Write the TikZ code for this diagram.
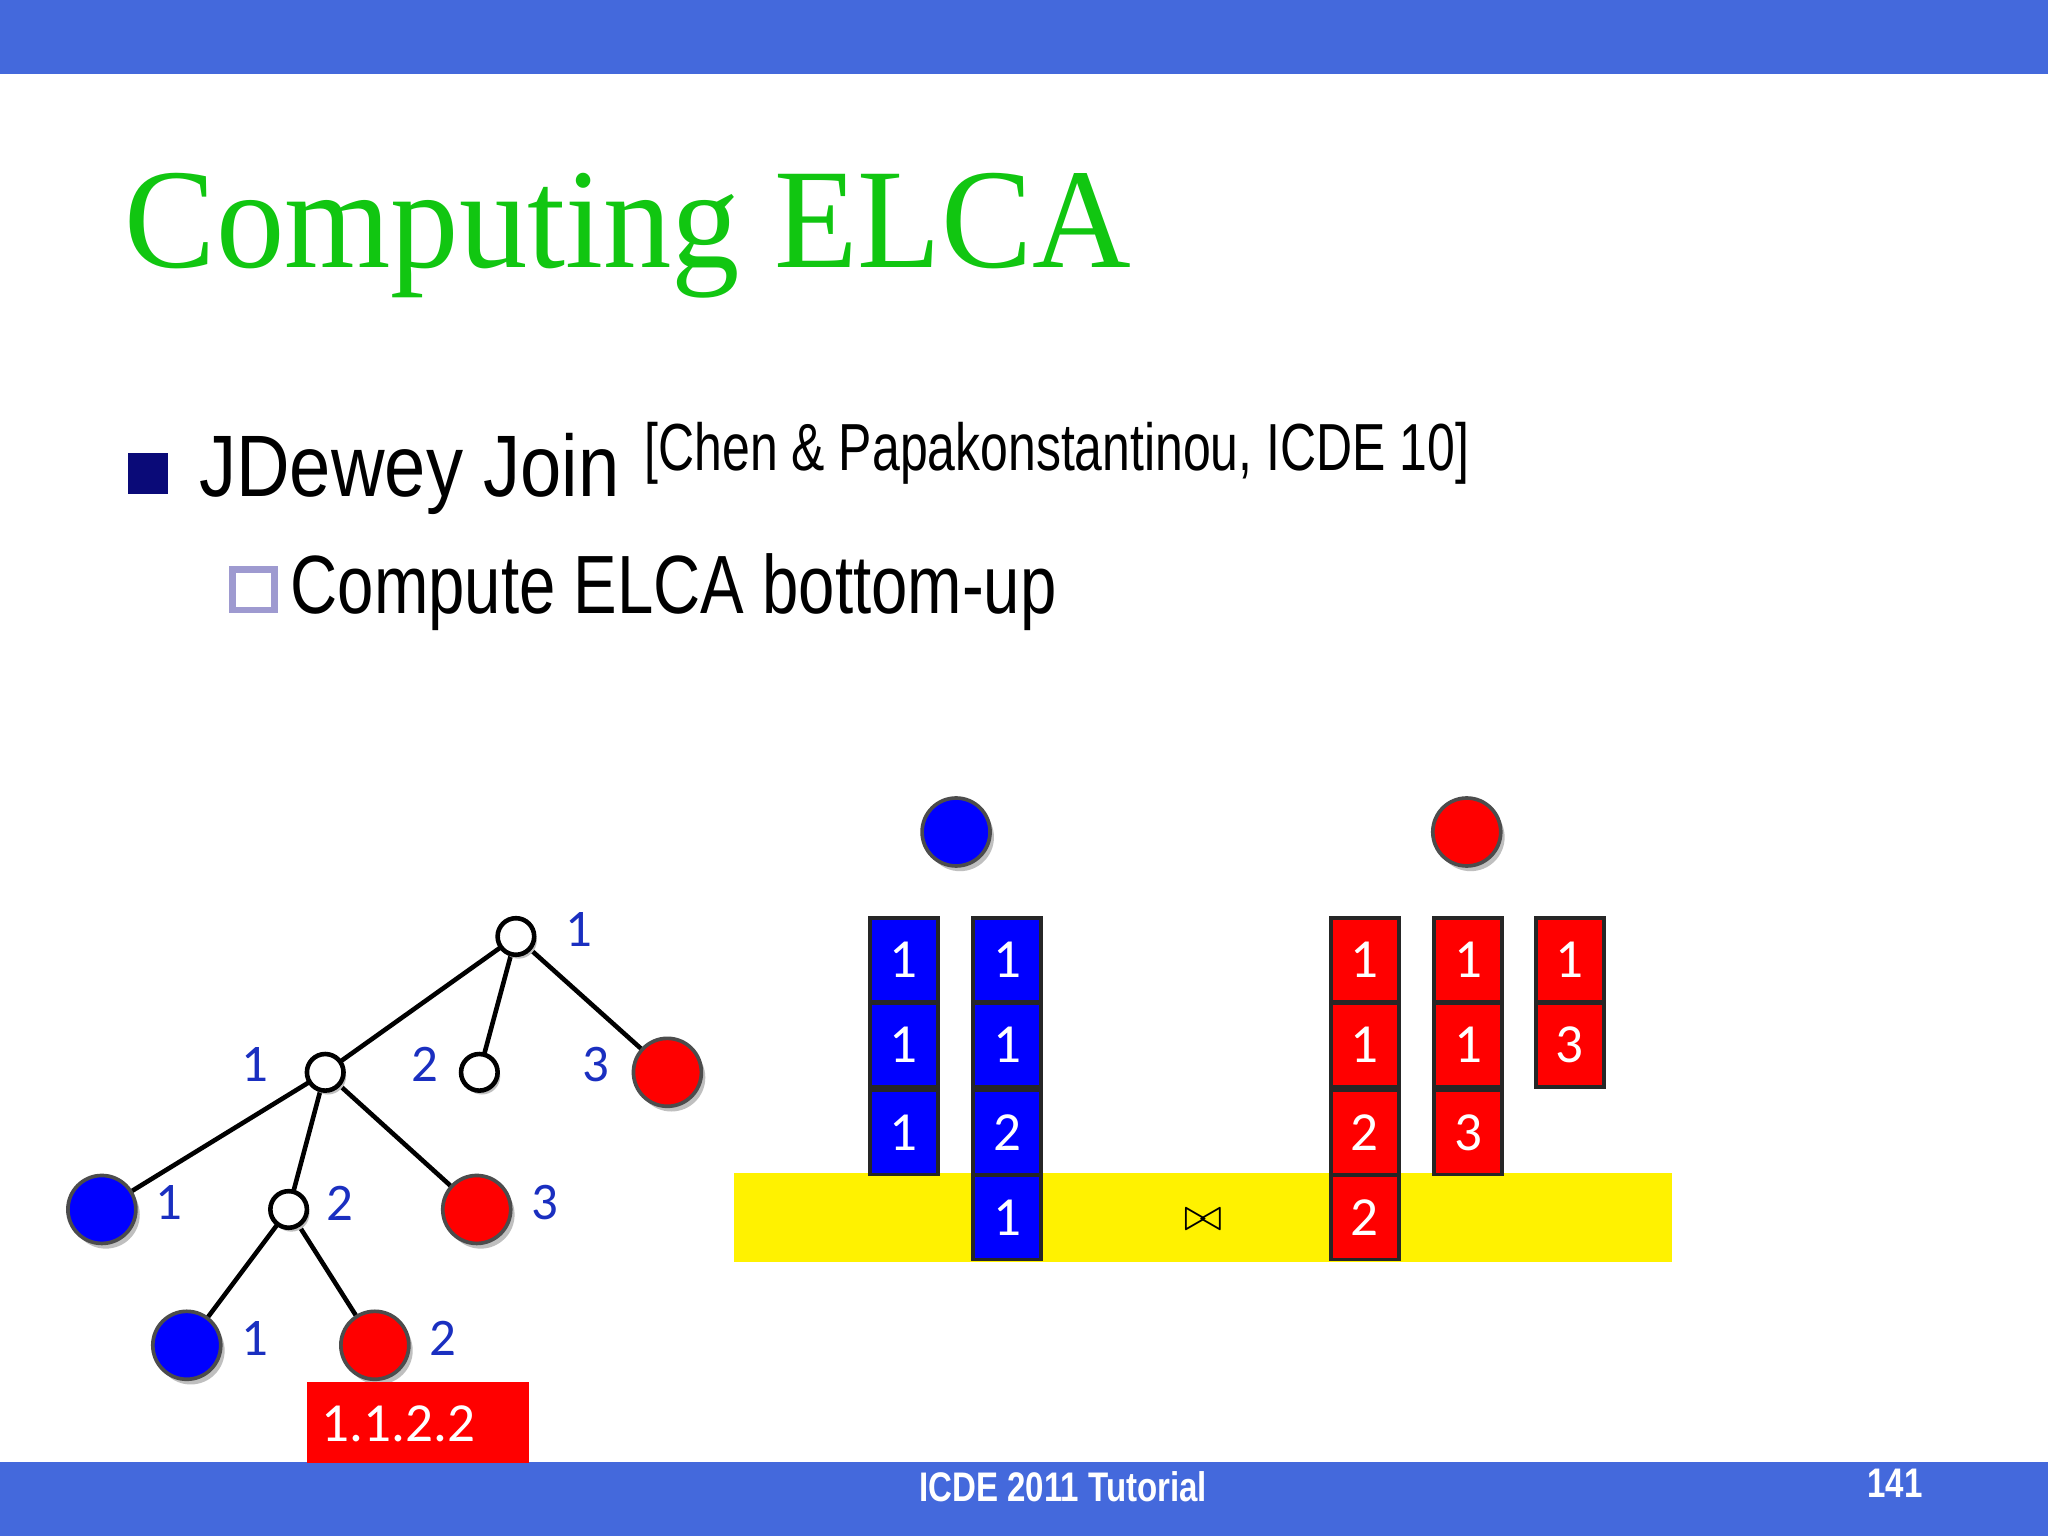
\documentclass[tikz,border=0pt]{standalone}
\usepackage{fontspec}
\setmainfont{Liberation Serif}
\newfontfamily\bodyf{Liberation Sans}
\newfontfamily\calf{Carlito}
\definecolor{barblue}{HTML}{4469DC}
\definecolor{ttlgreen}{HTML}{11C611}
\definecolor{navy}{HTML}{0A0A78}
\definecolor{lav}{HTML}{9E9AD0}
\definecolor{lblue}{HTML}{1A2FC0}
\tikzset{
 bx/.style={draw=black!85,line width=0.8pt,minimum width=0.52cm,minimum height=0.645cm,inner sep=0,font=\calf\fontsize{12}{14}\selectfont,text=white},
 bb/.style={bx,fill=blue},
 rb/.style={bx,fill=red},
 sm/.style={circle,draw=black,line width=1pt,fill=white,minimum size=0.28cm,inner sep=0},
 bigc/.style={circle,draw=black!70,line width=0.8pt,minimum size=0.52cm,inner sep=0},
 lab/.style={font=\calf\fontsize{11.5}{13}\selectfont,text=lblue},
 edge/.style={line width=1pt}
}
\begin{document}
\begin{tikzpicture}[x=0.01cm,y=-0.01cm]
\fill[white] (0,0) rectangle (1568,1176);
\useasboundingbox (0,0) rectangle (1568,1176);
\fill[barblue] (0,0) rectangle (1568,57);
\fill[barblue] (0,1119) rectangle (1568,1176);
\node[anchor=base west,text=ttlgreen,font=\fontsize{31}{34}\selectfont,inner sep=0,xscale=0.96] (title) at (95,205) {Computing ELCA};
\fill[navy] (98,347) rectangle (129,378);
\node[anchor=base west,inner sep=0,font=\bodyf\fontsize{19}{22}\selectfont,xscale=0.85] (jd) at (152,380) {JDewey Join};
\node[anchor=base west,inner sep=0,font=\bodyf\fontsize{14.5}{16}\selectfont,xscale=0.75] (cit) at (493,360) {[Chen \& Papakonstantinou, ICDE 10]};
\draw[lav,line width=1.5pt] (178,436) rectangle (210,467);
\node[anchor=base west,inner sep=0,font=\bodyf\fontsize{18}{21}\selectfont,xscale=0.79] (ce) at (222,470) {Compute ELCA bottom-up};
\node[text=white,font=\bodyf\bfseries\fontsize{9}{10}\selectfont,xscale=0.8] (ft) at (814,1138) {ICDE 2011 Tutorial};
\node[text=white,font=\bodyf\bfseries\fontsize{9}{10}\selectfont,xscale=0.8] (pg) at (1451,1136) {141};
% tree
\foreach \n/\x/\y in {r/395/717,a/249/821,b/367/821,c/221/926}
  \coordinate (\n) at (\x,\y);
\foreach \n/\x/\y in {d/511/821,f/365/926,h/287/1030}
  \coordinate (\n) at (\x,\y);
\foreach \n/\x/\y in {e/78/926,g/143/1030}
  \coordinate (\n) at (\x,\y);
\draw[edge] (r)--(a) (r)--(b) (r)--(d) (a)--(e) (a)--(c) (a)--(f) (c)--(g) (c)--(h);
\foreach \n in {d,f,h,e,g} \fill[black!25] ([shift={(3,4)}]\n) circle (26);
\foreach \n in {d,f,h} \node[bigc,fill=red] (c\n) at (\n) {};
\foreach \n in {e,g} \node[bigc,fill=blue] (c\n) at (\n) {};
\foreach \n in {r,a,b,c} {\fill[black!25] ([shift={(2,3)}]\n) circle (14); \node[sm] (s\n) at (\n) {};}
\foreach \t/\x/\y [count=\i] in {1/443/712,1/195/815,2/325/815,3/456/815,1/129/921,2/260/921,3/417/921,1/195/1025,2/339/1025}
  \node[lab] (l\i) at (\x,\y) {\t};
\fill[red] (235,1058) rectangle (405,1120);
\node[text=white,font=\calf\fontsize{12}{14}\selectfont] (lab) at (305,1090) {1.1.2.2};
% right
\fill[yellow] (562,898) rectangle (1280,966);
\fill[black!25] (735,641) circle (26); \node[bigc,fill=blue] (kb) at (732,637) {};
\fill[black!25] (1126,641) circle (26); \node[bigc,fill=red] (kr) at (1123,637) {};
\foreach \t/\y [count=\i] in {1/735,1/800,1/867} \node[bb] (p\i) at (692,\y) {\t};
\foreach \t/\y [count=\i] in {1/735,1/800,2/867,1/932} \node[bb] (q\i) at (771,\y) {\t};
\foreach \t/\y [count=\i] in {1/735,1/800,2/867,2/932} \node[rb] (u\i) at (1045,\y) {\t};
\foreach \t/\y [count=\i] in {1/735,1/800,3/867} \node[rb] (v\i) at (1124,\y) {\t};
\foreach \t/\y [count=\i] in {1/735,3/800} \node[rb] (w\i) at (1202,\y) {\t};
\node (join) at (921,934) {$\bowtie$};
\end{tikzpicture}
\end{document}
